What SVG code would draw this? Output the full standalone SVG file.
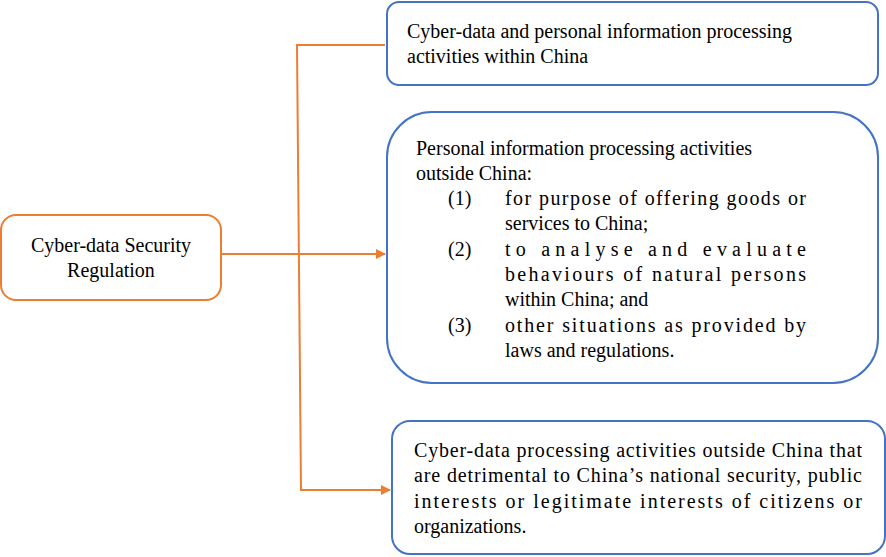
<svg xmlns="http://www.w3.org/2000/svg" width="886" height="557" viewBox="0 0 886 557">
<style>
text{font-family:"Liberation Serif","Times New Roman",serif;font-size:20px;fill:#000}
.b{fill:#fff;stroke:#4472C4;stroke-width:2}
.o{fill:#fff;stroke:#ED7D31;stroke-width:2}
.c{fill:none;stroke:#ED7D31;stroke-width:2}
</style>
<defs><marker id="a" markerWidth="10" markerHeight="10" refX="9" refY="5" orient="auto" markerUnits="userSpaceOnUse"><path d="M0,0L10,5L0,10z" fill="#ED7D31"/></marker></defs>
<g id="connectors">
<path class="c" d="M221,254H385" marker-end="url(#a)"/>
<path class="c" d="M385,45H297L301,490H390" marker-end="url(#a)"/>
</g>
<g id="root"><rect class="o" x="1" y="215" width="220" height="85" rx="15"/>
<text x="111" y="252" text-anchor="middle">Cyber-data Security</text>
<text x="111" y="277" text-anchor="middle">Regulation</text></g>
<g id="n1"><rect class="b" x="387" y="2" width="491" height="83" rx="12"/>
<text x="407" y="38">Cyber-data and personal information processing</text>
<text x="407" y="63">activities within China</text></g>
<g id="n2"><rect class="b" x="387" y="112" width="491" height="271" rx="45"/>
<text x="416" y="155">Personal information processing activities</text>
<text x="416" y="180">outside China:</text>
<text x="448" y="205">(1)</text>
<text x="505" y="205" textLength="301" lengthAdjust="spacing">for purpose of offering goods or</text>
<text x="505" y="230">services to China;</text>
<text x="448" y="256">(2)</text>
<text x="505" y="256" textLength="301" lengthAdjust="spacing">to analyse and evaluate</text>
<text x="505" y="281" textLength="301" lengthAdjust="spacing">behaviours of natural persons</text>
<text x="505" y="306">within China; and</text>
<text x="448" y="332">(3)</text>
<text x="505" y="332" textLength="301" lengthAdjust="spacing">other situations as provided by</text>
<text x="505" y="357">laws and regulations.</text></g>
<g id="n3"><rect class="b" x="392" y="421" width="493" height="133" rx="18"/>
<text x="414" y="457" textLength="448" lengthAdjust="spacing">Cyber-data processing activities outside China that</text>
<text x="414" y="482" textLength="448" lengthAdjust="spacing">are detrimental to China’s national security, public</text>
<text x="414" y="508" textLength="448" lengthAdjust="spacing">interests or legitimate interests of citizens or</text>
<text x="414" y="533">organizations.</text></g>
</svg>
